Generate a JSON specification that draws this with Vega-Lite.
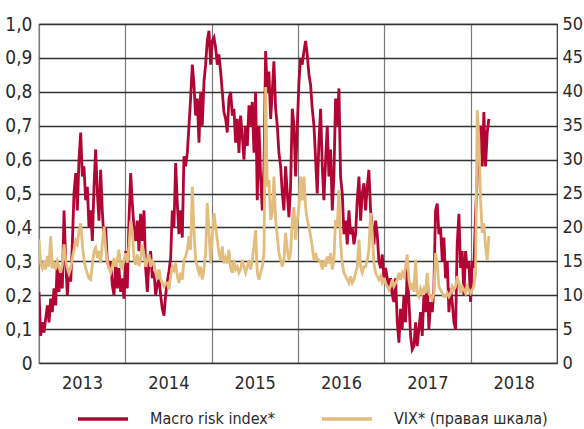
{
  "$schema": "https://vega.github.io/schema/vega-lite/v6.json",
  "width": 518,
  "height": 339,
  "autosize": "none",
  "padding": {"left": 39, "top": 24, "right": 27, "bottom": 66},
  "background": "white",
  "config": {
    "view": {"stroke": "#333333", "strokeWidth": 1.2},
    "axis": {
      "labelFont": "DejaVu Sans Condensed, DejaVu Sans, sans-serif",
      "labelFontSize": 20,
      "labelColor": "#2a2a2a",
      "ticks": false,
      "domain": false,
      "title": null
    },
    "legend": {
      "labelFont": "DejaVu Sans Condensed, DejaVu Sans, sans-serif",
      "labelFontSize": 16,
      "labelColor": "#2a2a2a",
      "labelLimit": 300
    }
  },
  "data": {"values": [
    {"t":2013.000,"m":0.21,"v":18.2},{"t":2013.019,"m":0.08,"v":14.7},{"t":2013.039,"m":0.12,"v":14.0},{"t":2013.058,"m":0.09,"v":15.0},
    {"t":2013.077,"m":0.13,"v":13.8},{"t":2013.097,"m":0.17,"v":15.8},{"t":2013.116,"m":0.12,"v":14.2},{"t":2013.135,"m":0.19,"v":18.7},
    {"t":2013.154,"m":0.15,"v":14.0},{"t":2013.174,"m":0.22,"v":14.6},{"t":2013.193,"m":0.17,"v":13.8},{"t":2013.212,"m":0.30,"v":15.0},
    {"t":2013.232,"m":0.21,"v":14.2},{"t":2013.251,"m":0.28,"v":13.3},{"t":2013.270,"m":0.22,"v":14.5},{"t":2013.290,"m":0.45,"v":17.5},
    {"t":2013.309,"m":0.30,"v":15.2},{"t":2013.328,"m":0.20,"v":14.0},{"t":2013.347,"m":0.28,"v":13.2},{"t":2013.367,"m":0.24,"v":14.0},
    {"t":2013.386,"m":0.35,"v":15.5},{"t":2013.405,"m":0.50,"v":16.7},{"t":2013.425,"m":0.56,"v":18.0},{"t":2013.444,"m":0.45,"v":17.5},
    {"t":2013.463,"m":0.60,"v":19.5},{"t":2013.483,"m":0.68,"v":20.6},{"t":2013.502,"m":0.55,"v":17.5},{"t":2013.521,"m":0.58,"v":15.2},
    {"t":2013.540,"m":0.48,"v":14.0},{"t":2013.560,"m":0.52,"v":13.2},{"t":2013.579,"m":0.40,"v":12.5},{"t":2013.598,"m":0.45,"v":12.3},
    {"t":2013.618,"m":0.36,"v":14.5},{"t":2013.637,"m":0.52,"v":16.5},{"t":2013.656,"m":0.63,"v":17.0},{"t":2013.676,"m":0.50,"v":15.5},
    {"t":2013.695,"m":0.42,"v":16.5},{"t":2013.714,"m":0.57,"v":14.8},{"t":2013.733,"m":0.45,"v":17.5},{"t":2013.753,"m":0.36,"v":20.1},
    {"t":2013.772,"m":0.40,"v":17.0},{"t":2013.791,"m":0.30,"v":15.0},{"t":2013.811,"m":0.28,"v":14.0},{"t":2013.830,"m":0.30,"v":13.3},
    {"t":2013.849,"m":0.23,"v":14.2},{"t":2013.869,"m":0.20,"v":15.5},{"t":2013.888,"m":0.30,"v":14.2},{"t":2013.907,"m":0.22,"v":15.2},
    {"t":2013.926,"m":0.28,"v":16.7},{"t":2013.946,"m":0.21,"v":14.2},{"t":2013.965,"m":0.25,"v":14.0},{"t":2013.984,"m":0.19,"v":15.2},
    {"t":2014.004,"m":0.33,"v":16.2},{"t":2014.023,"m":0.22,"v":14.8},{"t":2014.042,"m":0.42,"v":17.2},{"t":2014.062,"m":0.56,"v":21.0},
    {"t":2014.081,"m":0.47,"v":19.5},{"t":2014.100,"m":0.40,"v":15.5},{"t":2014.119,"m":0.36,"v":14.5},{"t":2014.139,"m":0.42,"v":16.0},
    {"t":2014.158,"m":0.33,"v":14.3},{"t":2014.177,"m":0.44,"v":15.3},{"t":2014.197,"m":0.36,"v":17.5},{"t":2014.216,"m":0.45,"v":16.0},
    {"t":2014.235,"m":0.28,"v":14.2},{"t":2014.255,"m":0.21,"v":15.2},{"t":2014.274,"m":0.30,"v":16.0},{"t":2014.293,"m":0.33,"v":14.2},
    {"t":2014.312,"m":0.25,"v":15.0},{"t":2014.332,"m":0.27,"v":14.6},{"t":2014.351,"m":0.20,"v":13.3},{"t":2014.370,"m":0.23,"v":12.3},
    {"t":2014.390,"m":0.25,"v":13.8},{"t":2014.409,"m":0.20,"v":12.3},{"t":2014.428,"m":0.16,"v":11.8},{"t":2014.448,"m":0.14,"v":11.3},
    {"t":2014.467,"m":0.20,"v":11.8},{"t":2014.486,"m":0.24,"v":11.8},{"t":2014.505,"m":0.27,"v":10.8},{"t":2014.525,"m":0.31,"v":12.8},
    {"t":2014.544,"m":0.45,"v":14.2},{"t":2014.563,"m":0.40,"v":13.7},{"t":2014.583,"m":0.59,"v":14.7},{"t":2014.602,"m":0.47,"v":12.8},
    {"t":2014.621,"m":0.38,"v":11.8},{"t":2014.641,"m":0.45,"v":13.3},{"t":2014.660,"m":0.37,"v":12.3},{"t":2014.679,"m":0.61,"v":15.2},
    {"t":2014.698,"m":0.58,"v":15.7},{"t":2014.718,"m":0.62,"v":16.7},{"t":2014.737,"m":0.70,"v":18.7},{"t":2014.756,"m":0.78,"v":16.7},
    {"t":2014.776,"m":0.88,"v":26.0},{"t":2014.795,"m":0.82,"v":19.5},{"t":2014.814,"m":0.73,"v":15.2},{"t":2014.834,"m":0.78,"v":14.2},
    {"t":2014.853,"m":0.65,"v":13.3},{"t":2014.872,"m":0.80,"v":14.2},{"t":2014.891,"m":0.70,"v":12.3},{"t":2014.911,"m":0.83,"v":13.8},
    {"t":2014.930,"m":0.88,"v":16.2},{"t":2014.949,"m":0.95,"v":23.6},{"t":2014.969,"m":0.98,"v":19.6},{"t":2014.988,"m":0.88,"v":14.7},
    {"t":2015.007,"m":0.95,"v":18.7},{"t":2015.027,"m":0.96,"v":22.1},{"t":2015.046,"m":0.93,"v":20.1},{"t":2015.065,"m":0.88,"v":18.2},
    {"t":2015.084,"m":0.91,"v":16.2},{"t":2015.104,"m":0.86,"v":15.2},{"t":2015.123,"m":0.80,"v":17.2},{"t":2015.142,"m":0.74,"v":14.7},
    {"t":2015.162,"m":0.72,"v":15.5},{"t":2015.181,"m":0.68,"v":14.7},{"t":2015.200,"m":0.78,"v":16.7},{"t":2015.220,"m":0.80,"v":14.0},
    {"t":2015.239,"m":0.73,"v":13.3},{"t":2015.258,"m":0.75,"v":15.2},{"t":2015.277,"m":0.65,"v":13.8},{"t":2015.297,"m":0.72,"v":14.2},
    {"t":2015.316,"m":0.62,"v":13.3},{"t":2015.335,"m":0.73,"v":13.8},{"t":2015.355,"m":0.67,"v":15.2},{"t":2015.374,"m":0.60,"v":14.2},
    {"t":2015.393,"m":0.70,"v":13.3},{"t":2015.413,"m":0.64,"v":14.2},{"t":2015.432,"m":0.76,"v":15.2},{"t":2015.451,"m":0.70,"v":13.8},
    {"t":2015.470,"m":0.77,"v":15.2},{"t":2015.490,"m":0.62,"v":17.2},{"t":2015.509,"m":0.80,"v":19.6},{"t":2015.528,"m":0.48,"v":13.3},
    {"t":2015.548,"m":0.70,"v":12.3},{"t":2015.567,"m":0.55,"v":13.3},{"t":2015.586,"m":0.45,"v":14.2},{"t":2015.606,"m":0.58,"v":16.2},
    {"t":2015.625,"m":0.92,"v":40.7},{"t":2015.644,"m":0.80,"v":26.0},{"t":2015.663,"m":0.86,"v":27.0},{"t":2015.683,"m":0.72,"v":21.1},
    {"t":2015.702,"m":0.80,"v":22.1},{"t":2015.721,"m":0.89,"v":27.5},{"t":2015.741,"m":0.75,"v":21.1},{"t":2015.760,"m":0.70,"v":18.7},
    {"t":2015.779,"m":0.62,"v":16.2},{"t":2015.799,"m":0.58,"v":15.2},{"t":2015.818,"m":0.50,"v":14.2},{"t":2015.837,"m":0.45,"v":15.2},
    {"t":2015.856,"m":0.58,"v":19.2},{"t":2015.876,"m":0.50,"v":16.7},{"t":2015.895,"m":0.43,"v":15.2},{"t":2015.914,"m":0.52,"v":16.2},
    {"t":2015.934,"m":0.75,"v":21.1},{"t":2015.953,"m":0.70,"v":23.0},{"t":2015.972,"m":0.55,"v":18.2},{"t":2015.992,"m":0.70,"v":21.1},
    {"t":2016.011,"m":0.83,"v":23.0},{"t":2016.030,"m":0.90,"v":27.5},{"t":2016.049,"m":0.88,"v":24.0},{"t":2016.069,"m":0.92,"v":27.5},
    {"t":2016.088,"m":0.95,"v":23.0},{"t":2016.107,"m":0.91,"v":21.1},{"t":2016.127,"m":0.85,"v":20.1},{"t":2016.146,"m":0.82,"v":18.7},
    {"t":2016.165,"m":0.75,"v":17.2},{"t":2016.185,"m":0.70,"v":15.2},{"t":2016.204,"m":0.60,"v":16.2},{"t":2016.223,"m":0.50,"v":15.2},
    {"t":2016.242,"m":0.65,"v":15.2},{"t":2016.262,"m":0.75,"v":14.8},{"t":2016.281,"m":0.58,"v":13.8},{"t":2016.300,"m":0.48,"v":15.2},
    {"t":2016.320,"m":0.60,"v":14.2},{"t":2016.339,"m":0.70,"v":15.7},{"t":2016.358,"m":0.55,"v":14.7},{"t":2016.378,"m":0.63,"v":16.2},
    {"t":2016.397,"m":0.45,"v":13.8},{"t":2016.416,"m":0.55,"v":15.2},{"t":2016.435,"m":0.78,"v":21.1},{"t":2016.455,"m":0.70,"v":20.1},
    {"t":2016.474,"m":0.81,"v":25.5},{"t":2016.493,"m":0.55,"v":17.7},{"t":2016.513,"m":0.50,"v":14.7},{"t":2016.532,"m":0.38,"v":13.3},
    {"t":2016.551,"m":0.42,"v":12.8},{"t":2016.571,"m":0.35,"v":12.3},{"t":2016.590,"m":0.45,"v":11.8},{"t":2016.609,"m":0.38,"v":12.8},
    {"t":2016.628,"m":0.40,"v":11.8},{"t":2016.648,"m":0.35,"v":12.3},{"t":2016.667,"m":0.38,"v":13.3},{"t":2016.686,"m":0.48,"v":14.2},
    {"t":2016.706,"m":0.55,"v":18.2},{"t":2016.725,"m":0.42,"v":14.2},{"t":2016.744,"m":0.50,"v":13.3},{"t":2016.764,"m":0.53,"v":14.2},
    {"t":2016.783,"m":0.45,"v":14.2},{"t":2016.802,"m":0.52,"v":15.2},{"t":2016.821,"m":0.57,"v":16.7},{"t":2016.841,"m":0.45,"v":22.1},
    {"t":2016.860,"m":0.40,"v":19.2},{"t":2016.879,"m":0.35,"v":14.7},{"t":2016.899,"m":0.42,"v":13.3},{"t":2016.918,"m":0.38,"v":12.8},
    {"t":2016.937,"m":0.30,"v":12.3},{"t":2016.957,"m":0.28,"v":12.8},{"t":2016.976,"m":0.32,"v":11.8},{"t":2016.995,"m":0.25,"v":12.3},
    {"t":2017.014,"m":0.28,"v":11.8},{"t":2017.034,"m":0.25,"v":11.3},{"t":2017.053,"m":0.22,"v":10.8},{"t":2017.072,"m":0.25,"v":11.3},
    {"t":2017.092,"m":0.20,"v":12.3},{"t":2017.111,"m":0.18,"v":11.3},{"t":2017.130,"m":0.25,"v":11.8},{"t":2017.150,"m":0.12,"v":12.3},
    {"t":2017.169,"m":0.06,"v":13.3},{"t":2017.188,"m":0.16,"v":12.3},{"t":2017.207,"m":0.10,"v":13.3},{"t":2017.227,"m":0.20,"v":12.8},
    {"t":2017.246,"m":0.12,"v":14.2},{"t":2017.265,"m":0.28,"v":16.0},{"t":2017.285,"m":0.18,"v":12.3},{"t":2017.304,"m":0.08,"v":10.8},
    {"t":2017.323,"m":0.04,"v":11.8},{"t":2017.343,"m":0.05,"v":10.5},{"t":2017.362,"m":0.12,"v":15.2},{"t":2017.381,"m":0.05,"v":10.3},
    {"t":2017.400,"m":0.10,"v":9.8},{"t":2017.420,"m":0.15,"v":11.0},{"t":2017.439,"m":0.08,"v":10.3},{"t":2017.458,"m":0.20,"v":11.0},
    {"t":2017.478,"m":0.15,"v":10.3},{"t":2017.497,"m":0.25,"v":13.3},{"t":2017.516,"m":0.10,"v":10.3},{"t":2017.536,"m":0.18,"v":9.8},
    {"t":2017.555,"m":0.15,"v":9.4},{"t":2017.574,"m":0.22,"v":10.3},{"t":2017.593,"m":0.45,"v":16.2},{"t":2017.613,"m":0.47,"v":14.7},
    {"t":2017.632,"m":0.38,"v":11.3},{"t":2017.651,"m":0.40,"v":10.8},{"t":2017.671,"m":0.30,"v":10.3},{"t":2017.690,"m":0.37,"v":9.8},
    {"t":2017.709,"m":0.25,"v":9.8},{"t":2017.729,"m":0.30,"v":10.3},{"t":2017.748,"m":0.15,"v":9.8},{"t":2017.767,"m":0.22,"v":10.3},
    {"t":2017.786,"m":0.18,"v":11.3},{"t":2017.806,"m":0.12,"v":10.8},{"t":2017.825,"m":0.10,"v":11.3},{"t":2017.844,"m":0.35,"v":12.8},
    {"t":2017.864,"m":0.44,"v":11.8},{"t":2017.883,"m":0.28,"v":10.3},{"t":2017.902,"m":0.33,"v":11.3},{"t":2017.922,"m":0.20,"v":10.8},
    {"t":2017.941,"m":0.33,"v":10.3},{"t":2017.960,"m":0.28,"v":11.3},{"t":2017.979,"m":0.30,"v":10.8},{"t":2017.999,"m":0.18,"v":10.3},
    {"t":2018.018,"m":0.30,"v":10.8},{"t":2018.037,"m":0.28,"v":11.3},{"t":2018.057,"m":0.44,"v":13.3},{"t":2018.076,"m":0.55,"v":37.3},
    {"t":2018.095,"m":0.62,"v":33.0},{"t":2018.115,"m":0.70,"v":24.0},{"t":2018.134,"m":0.58,"v":19.2},{"t":2018.153,"m":0.74,"v":20.6},
    {"t":2018.172,"m":0.58,"v":17.2},{"t":2018.192,"m":0.68,"v":15.2},{"t":2018.211,"m":0.72,"v":18.7}
  ]},
  "layer": [
    {
      "mark": {"type": "line", "strokeWidth": 2.8, "strokeJoin": "miter", "clip": true},
      "encoding": {
        "x": {
          "field": "t", "type": "quantitative",
          "scale": {"domain": [2013, 2019], "nice": false, "zero": false},
          "axis": {
            "orient": "bottom",
            "values": [2013, 2014, 2015, 2016, 2017, 2018],
            "format": "d",
            "labelFlush": false,
            "labelOverlap": false,
            "labelOffset": 43,
            "labelPadding": 11,
            "labelFontSize": 18,
            "grid": true,
            "gridColor": "#7a7a7a",
            "gridWidth": 1.2
          }
        },
        "y": {
          "field": "m", "type": "quantitative",
          "scale": {"domain": [0, 1], "nice": false},
          "axis": {
            "orient": "left",
            "values": [0, 0.1, 0.2, 0.3, 0.4, 0.5, 0.6, 0.7, 0.8, 0.9, 1.0],
            "labelExpr": "datum.value == 0 ? '0' : replace(format(datum.value, '.1f'), '.', ',')",
            "labelPadding": 7,
            "labelFontSize": 19,
            "grid": true,
            "gridColor": "#333333",
            "gridWidth": 1.3
          }
        },
        "color": {
          "datum": "Macro risk index*",
          "scale": {
            "domain": ["Macro risk index*", "VIX* (правая шкала)"],
            "range": ["#B20534", "#E2BD7D"]
          },
          "legend": {
            "orient": "none",
            "legendX": 37,
            "legendY": 368,
            "direction": "horizontal",
            "title": null,
            "symbolType": "stroke",
            "symbolSize": 2500,
            "symbolStrokeWidth": 3.5,
            "labelOffset": 20,
            "columnPadding": 40
          }
        }
      }
    },
    {
      "mark": {"type": "line", "strokeWidth": 2.8, "strokeJoin": "miter", "clip": true},
      "encoding": {
        "x": {"field": "t", "type": "quantitative"},
        "y": {
          "field": "v", "type": "quantitative",
          "scale": {"domain": [0, 50], "nice": false},
          "axis": {
            "orient": "right",
            "values": [0, 5, 10, 15, 20, 25, 30, 35, 40, 45, 50],
            "format": "d",
            "labelPadding": 5,
            "labelFontSize": 18,
            "grid": false
          }
        },
        "color": {"datum": "VIX* (правая шкала)"}
      }
    }
  ],
  "resolve": {"scale": {"y": "independent"}}
}
